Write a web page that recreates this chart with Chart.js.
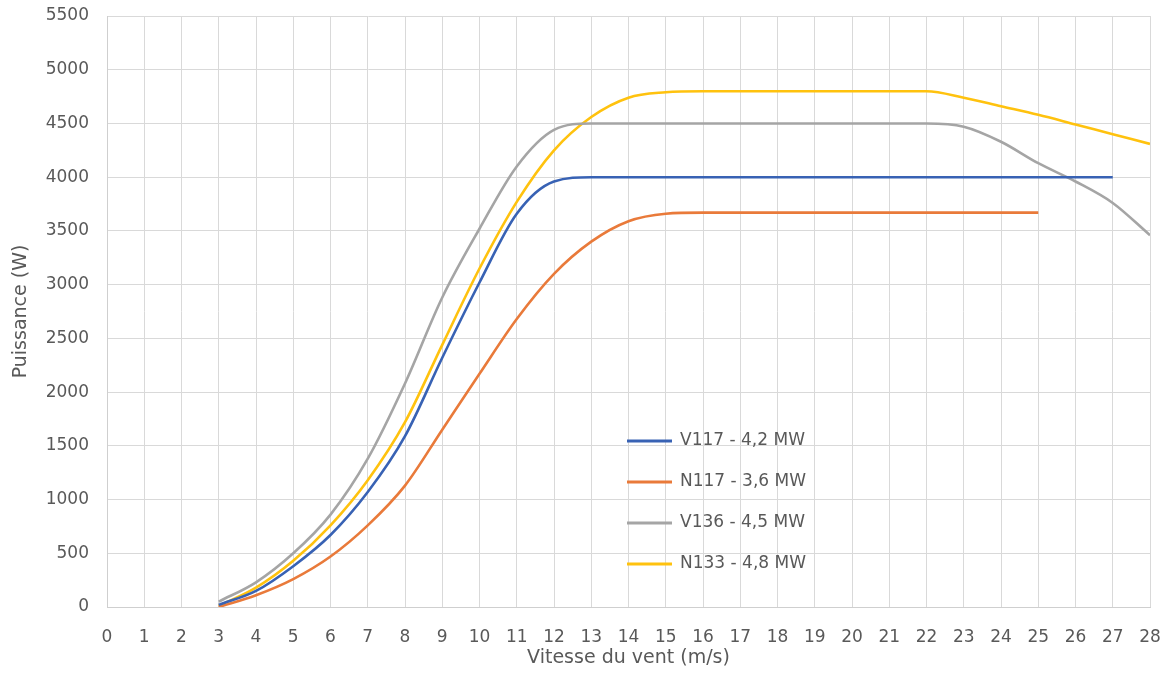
<!DOCTYPE html>
<html>
<head>
<meta charset="utf-8">
<title>Courbes de puissance</title>
<script src="https://cdn.jsdelivr.net/npm/chart.js@4.4.1/dist/chart.umd.min.js"></script>
<style>
  html, body { margin: 0; padding: 0; background: #fff; }
  #wrap { width: 1172px; height: 688px; }
</style>
</head>
<body>
<div id="wrap"><canvas id="chart" width="1172" height="688"></canvas></div>
<script>
// Wind speeds (m/s)
const speeds = [3, 4, 5, 6, 7, 8, 9, 10, 11, 12, 13, 14, 15, 16, 17, 18, 19, 20, 21, 22, 23, 24, 25, 26, 27, 28];

// Power values (W) for each turbine, null where the curve stops
const v117 = [20, 150, 380, 670, 1070, 1590, 2320, 3020, 3660, 3960, 4000, 4000, 4000, 4000, 4000, 4000, 4000, 4000, 4000, 4000, 4000, 4000, 4000, 4000, 4000, null];
const n117 = [0, 110, 260, 470, 760, 1130, 1650, 2170, 2680, 3100, 3400, 3590, 3660, 3670, 3670, 3670, 3670, 3670, 3670, 3670, 3670, 3670, 3670, null, null, null];
const v136 = [50, 230, 500, 860, 1380, 2080, 2880, 3520, 4100, 4440, 4500, 4500, 4500, 4500, 4500, 4500, 4500, 4500, 4500, 4500, 4470, 4330, 4130, 3960, 3760, 3460];
const n133 = [10, 180, 430, 760, 1180, 1720, 2440, 3150, 3770, 4250, 4560, 4740, 4790, 4800, 4800, 4800, 4800, 4800, 4800, 4800, 4740, 4660, 4580, 4490, 4400, 4310];

const seriesLabels = ["V117 - 4,2 MW", "N117 - 3,6 MW", "V136 - 4,5 MW", "N133 - 4,8 MW"];
const seriesColors = ["#3862B4", "#E97A3A", "#A5A5A5", "#FFC20E"];

// Axis limits
const xMin = 0, xMax = 28, xStep = 1;
const yMin = 0, yMax = 5500, yStep = 500;

const textColor = "#595959";
const gridColor = "#D9D9D9";

// Turn a values array into {x, y} points
function toPoints(values) {
  return speeds.map(function (s, i) {
    return { x: s, y: values[i] };
  });
}

// Legend drawn inside the plot area, like the original
const insideLegend = {
  id: "insideLegend",
  afterDatasetsDraw(chart) {
    const ctx = chart.ctx;
    const area = chart.chartArea;
    const x0 = area.left + 520;
    let y = area.top + 425;
    ctx.save();
    ctx.font = '17px "DejaVu Sans"';
    ctx.textBaseline = "middle";
    ctx.textAlign = "left";
    chart.data.datasets.forEach(function (ds) {
      ctx.strokeStyle = ds.borderColor;
      ctx.lineWidth = 3;
      ctx.beginPath();
      ctx.moveTo(x0, y);
      ctx.lineTo(x0 + 45, y);
      ctx.stroke();
      ctx.fillStyle = textColor;
      ctx.fillText(ds.label, x0 + 53, y);
      y += 41;
    });
    ctx.restore();
  }
};

const allValues = [v117, n117, v136, n133];

const ctx = document.getElementById("chart").getContext("2d");
new Chart(ctx, {
  type: "line",
  data: {
    datasets: allValues.map(function (values, i) {
      return {
        label: seriesLabels[i],
        data: toPoints(values),
        borderColor: seriesColors[i],
        backgroundColor: seriesColors[i],
        borderWidth: 2.6,
        pointRadius: 0,
        cubicInterpolationMode: "monotone",
        fill: false
      };
    })
  },
  options: {
    responsive: false,
    animation: false,
    devicePixelRatio: 1,
    layout: { padding: { left: 0, right: 22, top: 16, bottom: 0 } },
    plugins: {
      legend: { display: false },
      tooltip: { enabled: false }
    },
    scales: {
      x: {
        type: "linear",
        min: xMin,
        max: xMax,
        afterFit: function (scale) {
          scale.height = 81;
          scale.paddingLeft = 0;
          scale.paddingRight = 0;
        },
        ticks: {
          stepSize: xStep,
          padding: 20,
          color: textColor,
          font: { family: "DejaVu Sans", size: 17 },
          maxRotation: 0
        },
        grid: { color: gridColor, drawTicks: false },
        border: { color: "#CFCFCF" },
        title: {
          display: true,
          text: "Vitesse du vent (m/s)",
          color: textColor,
          font: { family: "DejaVu Sans", size: 19 },
          padding: { top: 0, bottom: 19 }
        }
      },
      y: {
        min: yMin,
        max: yMax,
        afterFit: function (scale) {
          scale.width = 107;
          scale.paddingTop = 0;
          scale.paddingBottom = 0;
        },
        ticks: {
          stepSize: yStep,
          padding: 18,
          color: textColor,
          font: { family: "DejaVu Sans", size: 17 },
          callback: function (value) { return String(value); }
        },
        grid: { color: gridColor, drawTicks: false },
        border: { color: "#CFCFCF" },
        title: {
          display: true,
          text: "Puissance (W)",
          color: textColor,
          font: { family: "DejaVu Sans", size: 19 },
          padding: { top: 10, bottom: 0 }
        }
      }
    }
  },
  plugins: [insideLegend]
});
</script>
</body>
</html>
